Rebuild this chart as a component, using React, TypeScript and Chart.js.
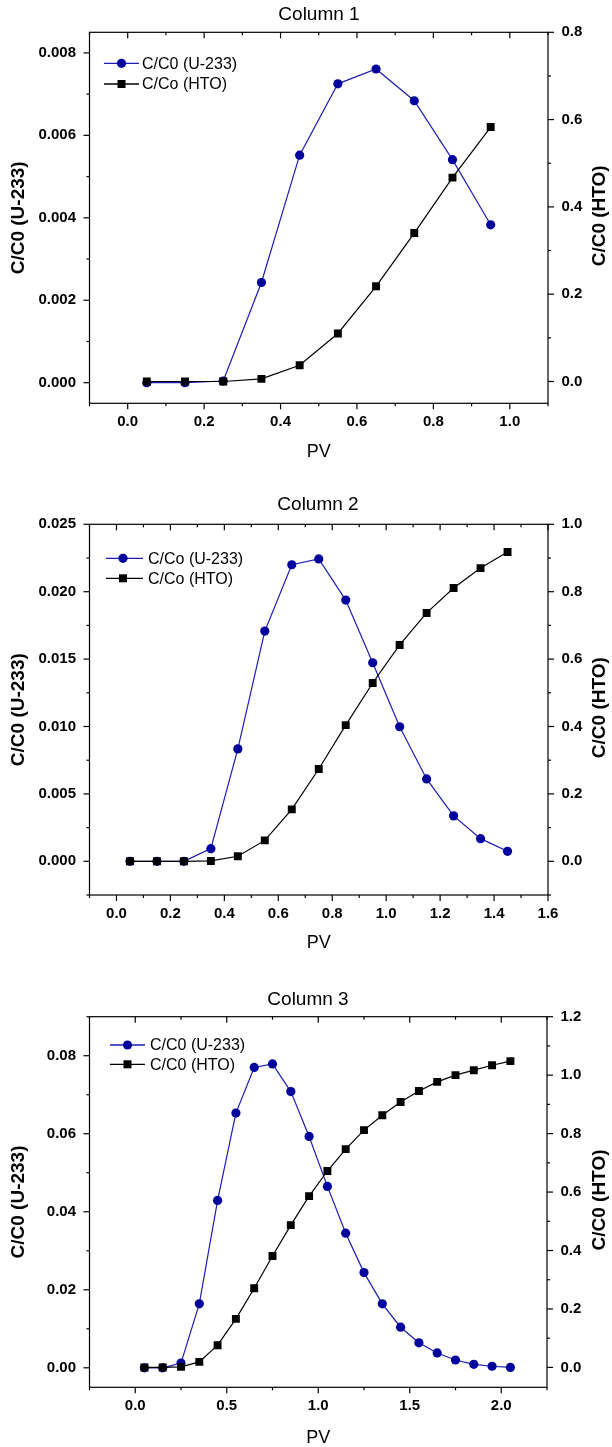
import React, { useEffect, useRef } from 'react';
import { Chart, registerables } from 'chart.js';
Chart.register(...registerables);

// ---------- Column 1 ----------
const pv1 = [0.05, 0.15, 0.25, 0.35, 0.45, 0.55, 0.65, 0.75, 0.85, 0.95];
const u1 = [0, 0, 0.00004, 0.00243, 0.00552, 0.00725, 0.00761, 0.00684, 0.00541, 0.00383];
const hto1 = [0, 0, 0, 0.006, 0.037, 0.11, 0.218, 0.34, 0.467, 0.583];
const x1Labels = ['0.0', '0.2', '0.4', '0.6', '0.8', '1.0'];
const yl1Labels = ['0.000', '0.002', '0.004', '0.006', '0.008'];
const yr1Labels = ['0.0', '0.2', '0.4', '0.6', '0.8'];
const legend1 = ['C/C0 (U-233)', 'C/Co (HTO)'];

// ---------- Column 2 ----------
const pv2 = [0.05, 0.15, 0.25, 0.35, 0.45, 0.55, 0.65, 0.75, 0.85, 0.95, 1.05, 1.15, 1.25, 1.35, 1.45];
const u2 = [0, 0, 0, 0.00094, 0.00834, 0.01708, 0.0220, 0.02243, 0.01938, 0.01473, 0.00998, 0.00611, 0.00337, 0.00168, 0.00074];
const hto2 = [0, 0, 0, 0.001, 0.015, 0.062, 0.154, 0.274, 0.404, 0.529, 0.642, 0.737, 0.811, 0.87, 0.918];
const x2Labels = ['0.0', '0.2', '0.4', '0.6', '0.8', '1.0', '1.2', '1.4', '1.6'];
const yl2Labels = ['0.000', '0.005', '0.010', '0.015', '0.020', '0.025'];
const yr2Labels = ['0.0', '0.2', '0.4', '0.6', '0.8', '1.0'];
const legend2 = ['C/Co (U-233)', 'C/Co (HTO)'];

// ---------- Column 3 ----------
const pv3 = [0.05, 0.15, 0.25, 0.35, 0.45, 0.55, 0.65, 0.75, 0.85, 0.95, 1.05, 1.15, 1.25, 1.35, 1.45, 1.55, 1.65, 1.75, 1.85, 1.95, 2.05];
const u3 = [0, 0, 0.0012, 0.0164, 0.0429, 0.0653, 0.077, 0.0779, 0.0708, 0.0593, 0.0465, 0.0345, 0.0244, 0.0164, 0.0104, 0.0064, 0.0038, 0.002, 0.0009, 0.0004, 0.0001];
const hto3 = [0, 0, 0.002, 0.019, 0.076, 0.166, 0.271, 0.381, 0.487, 0.586, 0.672, 0.747, 0.812, 0.863, 0.908, 0.946, 0.977, 1.0, 1.017, 1.034, 1.048];
const x3Labels = ['0.0', '0.5', '1.0', '1.5', '2.0'];
const yl3Labels = ['0.00', '0.02', '0.04', '0.06', '0.08'];
const yr3Labels = ['0.0', '0.2', '0.4', '0.6', '0.8', '1.0', '1.2'];
const legend3 = ['C/C0 (U-233)', 'C/C0 (HTO)'];

const titles = ['Column 1', 'Column 2', 'Column 3'];
const xTitle = 'PV';
const yLeftTitle = 'C/C0 (U-233)';
const yRightTitle = 'C/C0 (HTO)';

const FONT = "'Liberation Sans', Arial, Helvetica, sans-serif";
const BLUE_LINE = '#1c1cb4';
const BLUE_PT = '#00009c';

type Panel = {
  title: string; pv: number[]; u: number[]; hto: number[];
  xLabels: string[]; ylLabels: string[]; yrLabels: string[]; legend: string[];
  xRange: [number, number]; ylRange: [number, number]; yrRange: [number, number];
  top: number; height: number; plotTop: number; plotBottom: number; plotLeft: number; plotRight: number;
  titleX: number; titleY: number; pvY: number; rows: number[]; lineX: [number, number]; markX: number; textX: number;
};

const panels: Panel[] = [
  {
    title: titles[0], pv: pv1, u: u1, hto: hto1, xLabels: x1Labels, ylLabels: yl1Labels, yrLabels: yr1Labels, legend: legend1,
    xRange: [-0.1, 1.1], ylRange: [-0.0005, 0.0085], yrRange: [-0.05, 0.8],
    top: 0, height: 470, plotTop: 32.3, plotBottom: 403.3, plotLeft: 89.5, plotRight: 548,
    titleX: 319, titleY: 15, pvY: 451.7, rows: [63.3, 84], lineX: [104, 139], markX: 121.5, textX: 142,
  },
  {
    title: titles[1], pv: pv2, u: u2, hto: hto2, xLabels: x2Labels, ylLabels: yl2Labels, yrLabels: yr2Labels, legend: legend2,
    xRange: [-0.1, 1.6], ylRange: [-0.0025, 0.025], yrRange: [-0.1, 1.0],
    top: 485, height: 480, plotTop: 524.3, plotBottom: 895, plotLeft: 89.5, plotRight: 548,
    titleX: 318, titleY: 505, pvY: 943.3, rows: [558.3, 578.3], lineX: [106, 143], markX: 123, textX: 148,
  },
  {
    title: titles[2], pv: pv3, u: u3, hto: hto3, xLabels: x3Labels, ylLabels: yl3Labels, yrLabels: yr3Labels, legend: legend3,
    xRange: [-0.25, 2.25], ylRange: [-0.005, 0.09], yrRange: [-0.068, 1.2],
    top: 975, height: 472, plotTop: 1016.7, plotBottom: 1387.3, plotLeft: 89.5, plotRight: 547,
    titleX: 308, titleY: 999.3, pvY: 1438.3, rows: [1045, 1064.3], lineX: [110, 145], markX: 127.5, textX: 150,
  },
];

function minorsOf(majors: number[], range: [number, number]) {
  const out: number[] = [];
  if (majors.length < 2) return out;
  const step = majors[1] - majors[0];
  for (let v = majors[0] - step / 2; v <= range[1] + 1e-9; v += step) {
    if (v >= range[0] - 1e-9) out.push(v);
  }
  return out;
}

function makePlugin(p: Panel) {
  const T = p.top;
  return {
    id: 'panelDeco',
    afterDraw(chart: any) {
      const { ctx, chartArea: a, scales } = chart;
      const xs = scales.x, yl = scales.y, yr = scales.y1;
      const xMaj = p.xLabels.map(Number), ylMaj = p.ylLabels.map(Number), yrMaj = p.yrLabels.map(Number);
      const xMin = minorsOf(xMaj, p.xRange), ylMin = minorsOf(ylMaj, p.ylRange), yrMin = minorsOf(yrMaj, p.yrRange);
      ctx.save();
      ctx.strokeStyle = '#000';
      ctx.lineWidth = 1.2;
      ctx.strokeRect(a.left, a.top, a.right - a.left, a.bottom - a.top);
      const seg = (x1: number, y1: number, x2: number, y2: number) => {
        ctx.beginPath(); ctx.moveTo(x1, y1); ctx.lineTo(x2, y2); ctx.stroke();
      };
      const MJ = 6, MN = 3;
      xMaj.forEach(v => { const x = xs.getPixelForValue(v); seg(x, a.bottom, x, a.bottom + MJ); seg(x, a.top, x, a.top + MJ); });
      xMin.forEach(v => { const x = xs.getPixelForValue(v); seg(x, a.bottom, x, a.bottom + MN); seg(x, a.top, x, a.top + MN); });
      ylMaj.forEach(v => { const y = yl.getPixelForValue(v); seg(a.left - MJ, y, a.left, y); });
      ylMin.forEach(v => { const y = yl.getPixelForValue(v); seg(a.left - MN, y, a.left, y); });
      yrMaj.forEach(v => { const y = yr.getPixelForValue(v); seg(a.right, y, a.right + MJ, y); });
      yrMin.forEach(v => { const y = yr.getPixelForValue(v); seg(a.right, y, a.right + MN, y); });

      ctx.fillStyle = '#000';
      ctx.textBaseline = 'middle';
      // chart title
      ctx.textAlign = 'center';
      ctx.font = `19px ${FONT}`;
      ctx.fillText(p.title, p.titleX, p.titleY - T);
      // x title
      ctx.font = `18px ${FONT}`;
      ctx.fillText(xTitle, (a.left + a.right) / 2, p.pvY - T);
      // y titles (both read bottom to top)
      ctx.font = `bold 19px ${FONT}`;
      const yc = (a.top + a.bottom) / 2;
      ctx.save(); ctx.translate(19, yc); ctx.rotate(-Math.PI / 2); ctx.fillText(yLeftTitle, 0, 0); ctx.restore();
      ctx.save(); ctx.translate(600, yc - 2); ctx.rotate(-Math.PI / 2); ctx.fillText(yRightTitle, 0, 0); ctx.restore();

      // legend
      ctx.textAlign = 'left';
      ctx.font = `16px ${FONT}`;
      const ds = [
        { color: BLUE_LINE, fill: BLUE_PT, shape: 'circle', label: p.legend[0] },
        { color: '#000', fill: '#000', shape: 'rect', label: p.legend[1] },
      ];
      ds.forEach((d, i) => {
        const y = p.rows[i] - T;
        ctx.strokeStyle = d.color; ctx.lineWidth = 1.3;
        seg(p.lineX[0], y, p.lineX[1], y);
        ctx.fillStyle = d.fill;
        if (d.shape === 'circle') { ctx.beginPath(); ctx.arc(p.markX, y, 4.6, 0, Math.PI * 2); ctx.fill(); }
        else { ctx.fillRect(p.markX - 4, y - 4, 8, 8); }
        ctx.fillStyle = '#000';
        ctx.fillText(d.label, p.textX, y + 1);
      });
      ctx.restore();
    },
  };
}

function PanelChart({ p }: { p: Panel }) {
  const ref = useRef<HTMLCanvasElement>(null);
  useEffect(() => {
    const T = p.top;
    const tickFont = { family: FONT, size: 15, weight: 'bold' as const };
    const setTicks = (labels: string[]) => (s: any) => { s.ticks = labels.map(l => ({ value: Number(l) })); };
    const chart = new Chart(ref.current as HTMLCanvasElement, {
      type: 'line',
      data: {
        datasets: [
          {
            label: p.legend[1], data: p.pv.map((x, i) => ({ x, y: p.hto[i] })), yAxisID: 'y1', order: 0,
            borderColor: '#000', backgroundColor: '#000', borderWidth: 1.2,
            pointStyle: 'rect', pointRadius: 5.6, pointBorderWidth: 0, pointBackgroundColor: '#000', tension: 0,
          },
          {
            label: p.legend[0], data: p.pv.map((x, i) => ({ x, y: p.u[i] })), yAxisID: 'y', order: 1,
            borderColor: BLUE_LINE, backgroundColor: BLUE_PT, borderWidth: 1.2,
            pointStyle: 'circle', pointRadius: 4.6, pointBorderWidth: 0, pointBackgroundColor: BLUE_PT, tension: 0,
          },
        ],
      },
      options: {
        responsive: false,
        animation: false,
        devicePixelRatio: 1,
        layout: { padding: { top: p.plotTop - T, left: 0, right: 0, bottom: 0 } },
        plugins: { legend: { display: false }, title: { display: false }, tooltip: { enabled: false } },
        scales: {
          x: {
            type: 'linear', min: p.xRange[0], max: p.xRange[1],
            afterBuildTicks: setTicks(p.xLabels),
            afterFit: (s: any) => { s.height = p.top + p.height - p.plotBottom; },
            grid: { display: false, drawTicks: false }, border: { display: false },
            ticks: { autoSkip: false, maxRotation: 0, padding: 10, color: '#000', font: tickFont,
              callback: (_v: any, i: number) => p.xLabels[i] },
          },
          y: {
            type: 'linear', position: 'left', min: p.ylRange[0], max: p.ylRange[1],
            afterBuildTicks: setTicks(p.ylLabels),
            afterFit: (s: any) => { s.width = p.plotLeft; },
            grid: { display: false, drawTicks: false }, border: { display: false },
            ticks: { autoSkip: false, padding: 13.5, color: '#000', font: tickFont,
              callback: (_v: any, i: number) => p.ylLabels[i] },
          },
          y1: {
            type: 'linear', position: 'right', min: p.yrRange[0], max: p.yrRange[1],
            afterBuildTicks: setTicks(p.yrLabels),
            afterFit: (s: any) => { s.width = 612 - p.plotRight; },
            grid: { display: false, drawTicks: false }, border: { display: false },
            ticks: { autoSkip: false, padding: 13.5, color: '#000', font: tickFont,
              callback: (_v: any, i: number) => p.yrLabels[i] },
          },
        },
      },
      plugins: [makePlugin(p)],
    } as any);
    return () => chart.destroy();
  }, []);
  return (
    <div style={{ position: 'absolute', left: 0, top: p.top, width: 612, height: p.height }}>
      <canvas ref={ref} width={612} height={p.height} style={{ display: 'block', width: 612, height: p.height }} />
    </div>
  );
}

export default function App() {
  return (
    <div style={{ position: 'absolute', left: 0, top: 0, width: 612, height: 1447, overflow: 'hidden', background: '#fff' }}>
      {panels.map((p, i) => <PanelChart key={i} p={p} />)}
    </div>
  );
}
